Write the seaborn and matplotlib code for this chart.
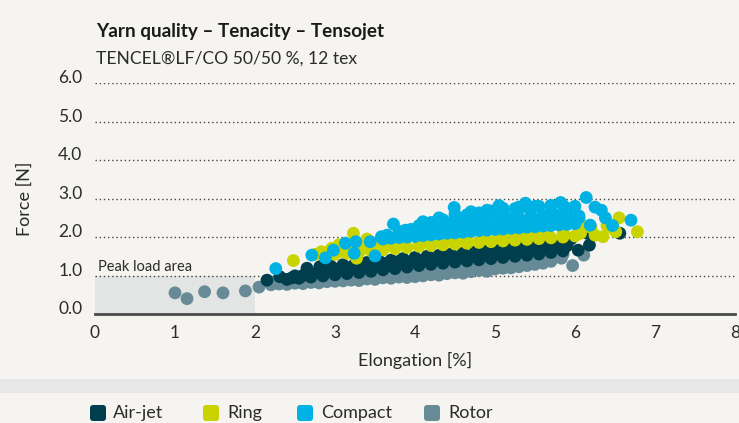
import numpy as np
import pandas as pd
import seaborn as sns
import matplotlib.pyplot as plt
from matplotlib.patches import Rectangle, FancyBboxPatch
from matplotlib.transforms import IdentityTransform

# ---- data (elongation %, force N) ----
series_names = ["Air-jet", "Ring", "Compact", "Rotor"]
series_colors = ["#003d4d", "#c8d300", "#00b2e3", "#678b96"]

rotor_x = [1.0, 1.15, 1.37, 1.6, 1.88, 2.05,
           2.2, 2.3, 2.4, 2.5, 2.6, 2.7, 2.8, 2.9, 3.0, 3.1, 3.2, 3.3, 3.4, 3.5, 3.6, 3.7, 3.8, 3.9,
           4.0, 4.1, 4.2, 4.3, 4.4, 4.5, 4.6, 4.7, 4.8, 4.9, 5.0, 5.1, 5.2, 5.3, 5.4, 5.5, 5.6, 5.7,
           2.25, 2.45, 2.55, 2.75, 2.85, 3.05, 3.15, 3.35, 3.45, 3.65, 3.75, 3.95, 4.05, 4.25, 4.35,
           4.55, 4.65, 4.85, 4.95, 5.15, 5.25, 5.45, 5.55, 5.75,
           2.35, 2.65, 2.95, 3.25, 3.55, 3.85, 4.15, 4.45, 4.75, 5.05, 5.35, 5.65, 5.85,
           2.5, 2.8, 3.1, 3.4, 3.7, 4.0, 4.3, 4.6, 4.9, 5.2, 5.5,
           2.6, 2.8, 3.0, 3.2, 3.4, 3.6, 3.8, 4.0, 4.2, 4.4, 4.6, 4.8, 5.0, 5.2, 5.4, 5.6,
           5.83, 5.87, 5.97, 6.11]
rotor_y = [0.55, 0.4, 0.58, 0.55, 0.6, 0.7,
           0.76, 0.78, 0.77, 0.8, 0.79, 0.82, 0.81, 0.84, 0.85, 0.86, 0.88, 0.87, 0.91, 0.9, 0.94, 0.93, 0.96, 0.95,
           0.97, 0.99, 1.02, 1.01, 1.05, 1.07, 1.06, 1.1, 1.13, 1.11, 1.17, 1.19, 1.2, 1.23, 1.26, 1.29, 1.32, 1.37,
           0.84, 0.86, 0.88, 0.9, 0.92, 0.95, 0.97, 1.0, 1.02, 1.05, 1.07, 1.1, 1.12, 1.15, 1.18,
           1.2, 1.23, 1.26, 1.29, 1.32, 1.35, 1.4, 1.43, 1.48,
           0.9, 0.95, 1.0, 1.05, 1.1, 1.15, 1.2, 1.25, 1.32, 1.38, 1.45, 1.5, 1.55,
           1.0, 1.05, 1.12, 1.16, 1.22, 1.28, 1.35, 1.4, 1.46, 1.52, 1.6,
           1.0, 1.02, 1.06, 1.12, 1.15, 1.2, 1.25, 1.3, 1.32, 1.36, 1.4, 1.45, 1.5, 1.55, 1.6, 1.65,
           1.45, 1.72, 1.26, 1.53]

airjet_x = [2.15, 2.31, 2.46, 2.65, 2.81,
            2.4, 2.55, 2.7, 2.85, 3.0, 3.15, 3.3, 3.45, 3.6, 3.75, 3.9, 4.05, 4.2, 4.35, 4.5, 4.65,
            4.8, 4.95, 5.1, 5.25, 5.4, 5.55, 5.7, 5.85,
            2.5, 2.7, 2.9, 3.1, 3.3, 3.5, 3.7, 3.9, 4.1, 4.3, 4.5, 4.7, 4.9, 5.1, 5.3, 5.5, 5.7, 5.9,
            2.6, 2.8, 3.0, 3.2, 3.4, 3.6, 3.8, 4.0, 4.2, 4.4, 4.6, 4.8, 5.0, 5.2, 5.4, 5.6, 5.8,
            2.95, 3.1, 3.25, 3.4, 3.55, 3.7, 3.85, 4.0, 4.15, 4.3, 4.45, 4.6, 4.75, 4.9, 5.05,
            5.2, 5.35, 5.5, 5.65, 5.8, 5.95,
            6.04, 6.18, 6.15, 6.56]
airjet_y = [0.88, 0.97, 0.94, 1.19, 1.23,
            0.9, 0.93, 0.96, 0.99, 1.02, 1.05, 1.08, 1.11, 1.15, 1.18, 1.22, 1.26, 1.29, 1.32, 1.35, 1.38,
            1.41, 1.44, 1.47, 1.5, 1.53, 1.56, 1.6, 1.64,
            0.98, 1.05, 1.12, 1.16, 1.2, 1.25, 1.3, 1.36, 1.4, 1.44, 1.47, 1.5, 1.54, 1.58, 1.62, 1.66, 1.7, 1.78,
            1.0, 1.1, 1.17, 1.22, 1.27, 1.32, 1.37, 1.42, 1.45, 1.49, 1.53, 1.57, 1.6, 1.63, 1.68, 1.72, 1.76,
            1.24, 1.28, 1.3, 1.34, 1.38, 1.4, 1.44, 1.47, 1.5, 1.53, 1.56, 1.58, 1.61, 1.64, 1.66,
            1.69, 1.72, 1.75, 1.78, 1.84, 1.95,
            1.66, 1.79, 2.1, 2.1]

ring_x = [2.48, 2.83, 2.96, 3.23, 3.27, 2.75, 2.9, 3.05, 3.4, 3.5,
          3.0, 3.15, 3.3, 3.45, 3.6, 3.75, 3.9, 4.05, 4.2, 4.35, 4.5, 4.65, 4.8, 4.95, 5.1, 5.25,
          5.4, 5.55, 5.7, 5.85, 6.0,
          3.05, 3.25, 3.45, 3.65, 3.85, 4.05, 4.25, 4.45, 4.65, 4.85, 5.05, 5.25, 5.45, 5.65, 5.85, 6.05,
          3.1, 3.35, 3.6, 3.85, 4.1, 4.35, 4.6, 4.85, 5.1, 5.35, 5.6, 5.85,
          6.07, 6.1, 6.2, 6.25, 6.35, 6.4, 6.45, 6.51, 6.55, 6.78]
ring_y = [1.39, 1.62, 1.71, 2.1, 1.45, 1.55, 1.6, 1.8, 1.95, 1.78,
          1.55, 1.58, 1.61, 1.64, 1.67, 1.7, 1.73, 1.76, 1.78, 1.8, 1.82, 1.84, 1.86, 1.88, 1.9, 1.92,
          1.94, 1.96, 1.98, 2.0, 2.03,
          1.62, 1.68, 1.74, 1.79, 1.83, 1.86, 1.89, 1.93, 1.96, 1.99, 2.02, 2.05, 2.08, 2.1, 2.13, 2.18,
          1.75, 1.82, 1.86, 1.9, 1.94, 1.98, 2.02, 2.05, 2.08, 2.11, 2.14, 2.2,
          2.1, 2.3, 2.25, 2.05, 2.01, 2.3, 2.25, 2.14, 2.5, 2.14]

compact_x = [2.26, 2.71, 2.88, 2.98, 3.13, 3.24, 3.26, 3.44, 3.5, 3.58, 3.73, 3.88, 4.49, 6.14,
             3.6, 3.7, 3.8, 3.9, 4.0, 4.1, 4.2, 4.3, 4.4, 4.5, 4.6, 4.7, 4.8, 4.9, 5.0, 5.1, 5.2,
             5.3, 5.4, 5.5, 5.6, 5.7, 5.8, 5.9, 6.0,
             3.65, 3.85, 4.05, 4.25, 4.45, 4.65, 4.85, 5.05, 5.25, 5.45, 5.65, 5.85, 6.05,
             4.15, 4.35, 4.55, 4.75, 4.95, 5.15, 5.35, 5.55, 5.75, 5.95,
             3.8, 3.95, 4.1, 4.25, 4.4, 4.55, 4.7, 4.85, 5.0, 5.15, 5.3, 5.45, 5.6, 5.75, 5.9, 6.05,
             4.1, 4.3, 4.5, 4.7, 4.9, 5.1, 5.3, 5.5, 5.7, 5.9,
             4.05, 4.2, 4.35, 4.5, 4.65, 4.8, 4.95, 5.1, 5.25, 5.4, 5.55, 5.7, 5.85, 6.0,
             5.05, 5.38, 5.82, 6.19, 6.25, 6.33, 6.38, 6.47, 6.7]
compact_y = [1.18, 1.53, 1.46, 1.66, 1.84, 1.58, 1.88, 1.88, 1.51, 2.01, 2.34, 2.18, 2.77, 3.03,
             1.95, 1.97, 1.99, 2.0, 2.02, 2.04, 2.06, 2.08, 2.1, 2.11, 2.13, 2.15, 2.17, 2.18, 2.2, 2.21, 2.23,
             2.24, 2.26, 2.27, 2.29, 2.3, 2.32, 2.33, 2.35,
             2.05, 2.1, 2.16, 2.22, 2.28, 2.33, 2.38, 2.42, 2.46, 2.5, 2.52, 2.55, 2.5,
             2.15, 2.2, 2.25, 2.3, 2.33, 2.37, 2.4, 2.44, 2.47, 2.45,
             2.15, 2.2, 2.25, 2.3, 2.34, 2.38, 2.42, 2.45, 2.48, 2.5, 2.52, 2.55, 2.57, 2.58, 2.6, 2.55,
             2.4, 2.5, 2.6, 2.66, 2.7, 2.75, 2.78, 2.8, 2.82, 2.75,
             2.3, 2.38, 2.45, 2.52, 2.58, 2.63, 2.68, 2.71, 2.74, 2.78, 2.8, 2.82, 2.83, 2.8,
             2.82, 2.88, 2.9, 2.31, 2.78, 2.7, 2.5, 2.3, 2.44]

x_ticks = [0, 1, 2, 3, 4, 5, 6, 7, 8]
y_ticks = [0.0, 1.0, 2.0, 3.0, 4.0, 5.0, 6.0]

# draw order: rotor at the back, compact on top
df = pd.concat([
    pd.DataFrame({"Elongation": rotor_x, "Force": rotor_y, "Spinning": "Rotor"}),
    pd.DataFrame({"Elongation": airjet_x, "Force": airjet_y, "Spinning": "Air-jet"}),
    pd.DataFrame({"Elongation": ring_x, "Force": ring_y, "Spinning": "Ring"}),
    pd.DataFrame({"Elongation": compact_x, "Force": compact_y, "Spinning": "Compact"}),
], ignore_index=True)

bg = "#f5f4f1"
txt = "#2b2b2b"
sns.set_theme(style="white")
plt.rcParams["font.family"] = ["Lato", "DejaVu Sans"]

W, H = 739, 423
fig = plt.figure(figsize=(W / 100, H / 100), dpi=100, facecolor=bg)
ax = fig.add_axes([95 / W, 109 / H, 640 / W, 230.7 / H])
ax.set_facecolor(bg)

# peak load area
ax.add_patch(Rectangle((0, 0), 2, 1.0, color="#e3e4e4", zorder=0, lw=0))
ax.text(0.035, 1.12, "Peak load area", fontsize=10.5, color=txt, va="baseline", ha="left")

sns.scatterplot(data=df, x="Elongation", y="Force", hue="Spinning",
                hue_order=series_names, palette=series_colors,
                s=85, linewidth=0, alpha=1, legend=False, ax=ax, zorder=3)

ax.set_xlim(0, 8)
ax.set_ylim(0, 6)
ax.set_xticks(x_ticks)
ax.set_yticks(y_ticks)
ax.set_yticklabels([f"{v:.1f}" for v in y_ticks])
ax.tick_params(axis="x", length=0, pad=8, labelsize=12.5, colors=txt)
ax.tick_params(axis="y", length=0, pad=9, labelsize=12.5, colors=txt)
plt.setp(ax.get_yticklabels(), va="baseline")

ax.grid(axis="y", linestyle=(0, (1, 2)), color="#444444", lw=1)
ax.grid(axis="x", visible=False)
ax.set_axisbelow(True)
for side in ["left", "right", "top"]:
    ax.spines[side].set_visible(False)
ax.spines["bottom"].set_color("#4a4a4a")
ax.spines["bottom"].set_linewidth(2)
ax.spines["bottom"].set_zorder(4)
ax.set_xlabel("")
ax.set_ylabel("")

# titles and axis labels in figure pixels
fig.text(96 / W, 1 - 37.5 / H, "Yarn quality – Tenacity – Tensojet", fontsize=13.6,
         fontweight="bold", color="#1a1a1a", va="baseline", ha="left")
fig.text(96 / W, 1 - 64 / H, "TENCEL®LF/CO 50/50 %, 12 tex", fontsize=12.6,
         color=txt, va="baseline", ha="left")
fig.text(415 / W, 1 - 360 / H, "Elongation [%]", fontsize=13, color=txt, ha="center", va="center")
fig.text(24.5 / W, 1 - 198.5 / H, "Force [N]", fontsize=13, color=txt, ha="center",
         va="center", rotation=90)

# grey band above the legend
fig.add_artist(Rectangle((0, 1 - 393 / H), 1, 14 / H, transform=fig.transFigure,
                         color="#e7e7e7", lw=0))

# legend: rounded squares + labels
leg_box_x = [90, 203, 297, 424]
leg_text_x = [113, 227.5, 321.5, 448]
for name, col, bx, tx in zip(series_names, series_colors, leg_box_x, leg_text_x):
    fig.add_artist(FancyBboxPatch((bx, H - 421), 16, 16,
                                  boxstyle="round,pad=0,rounding_size=3",
                                  transform=IdentityTransform(), color=col, lw=0))
    fig.text(tx / W, 1 - 413 / H, name, fontsize=13, color=txt, ha="left", va="center")

fig.savefig("out.png", dpi=100, facecolor=bg)
